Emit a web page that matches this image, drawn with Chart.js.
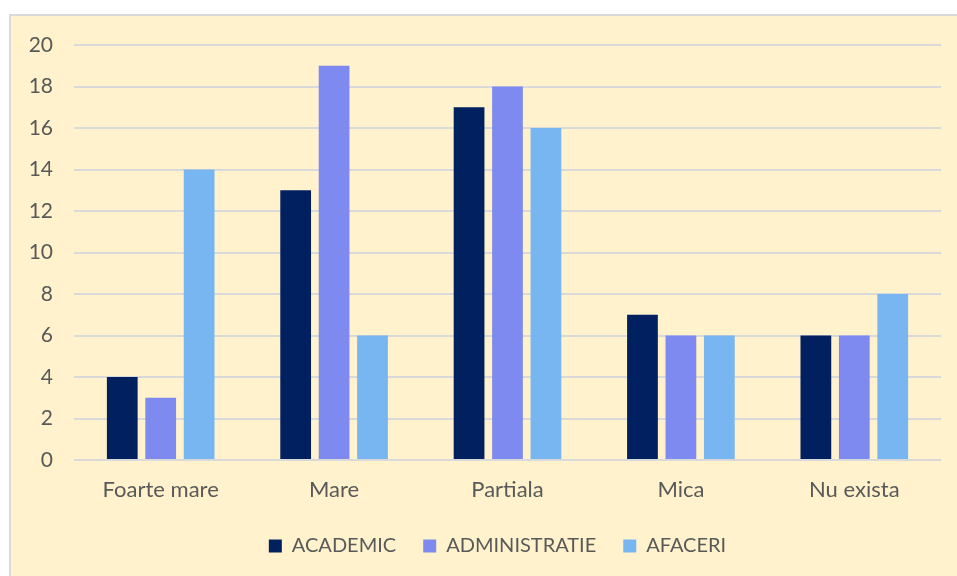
<!DOCTYPE html>
<html>
<head>
<meta charset="utf-8">
<script src="https://cdn.jsdelivr.net/npm/chart.js@4.4.1/dist/chart.umd.min.js"></script>
<style>
  html, body { margin: 0; padding: 0; background: #fff; }
  #box {
    position: absolute; left: 9px; top: 14px; width: 960px; height: 580px;
    background: #FFF2CC; border: 2px solid #D9D9D9; box-sizing: border-box;
  }
  #wrap { position: absolute; left: 0; top: 0; width: 957px; height: 576px; }
</style>
</head>
<body>
<div id="box"></div>
<div id="wrap"><canvas id="chart"></canvas></div>
<script>
// Chart data
const categories = ['Foarte mare', 'Mare', 'Partiala', 'Mica', 'Nu exista'];
const academic = [4, 13, 17, 7, 6];
const administratie = [3, 19, 18, 6, 6];
const afaceri = [14, 6, 16, 6, 8];

const textColor = '#595959';
const fontFamily = 'Lato, "Liberation Sans", sans-serif';

// nudge the legend to the right, it sits centred on the box not the plot
const legendShift = {
  id: 'legendShift',
  afterLayout(chart) {
    if (chart.legend) {
      chart.legend.left += 27;
      chart.legend.right += 27;
    }
  }
};

const ctx = document.getElementById('chart').getContext('2d');
new Chart(ctx, {
  type: 'bar',
  data: {
    labels: categories,
    datasets: [
      { label: 'ACADEMIC', data: academic, backgroundColor: '#002060' },
      { label: 'ADMINISTRATIE', data: administratie, backgroundColor: '#7E8AEF' },
      { label: 'AFACERI', data: afaceri, backgroundColor: '#77B6F1' }
    ]
  },
  options: {
    responsive: true,
    maintainAspectRatio: false,
    animation: false,
    datasets: { bar: { barPercentage: 0.8, categoryPercentage: 0.665 } },
    layout: { padding: { top: 45, right: 16, bottom: 10, left: 0 } },
    plugins: {
      tooltip: { enabled: false },
      legend: {
        position: 'bottom',
        labels: {
          color: textColor,
          font: { family: fontFamily, size: 20 },
          boxWidth: 13,
          boxHeight: 13,
          padding: 27
        }
      }
    },
    scales: {
      x: {
        grid: { display: false },
        border: { display: false },
        ticks: { color: textColor, font: { family: fontFamily, size: 22 }, padding: 9 },
        afterFit(scale) { scale.height = 49; }
      },
      y: {
        min: 0,
        max: 20,
        ticks: { stepSize: 2, color: textColor, font: { family: fontFamily, size: 21 }, padding: 21 },
        grid: { color: '#D9D9D9', lineWidth: 2, drawTicks: false },
        border: { display: false },
        afterFit(scale) { scale.width = 74; }
      }
    }
  },
  plugins: [legendShift]
});
</script>
</body>
</html>
